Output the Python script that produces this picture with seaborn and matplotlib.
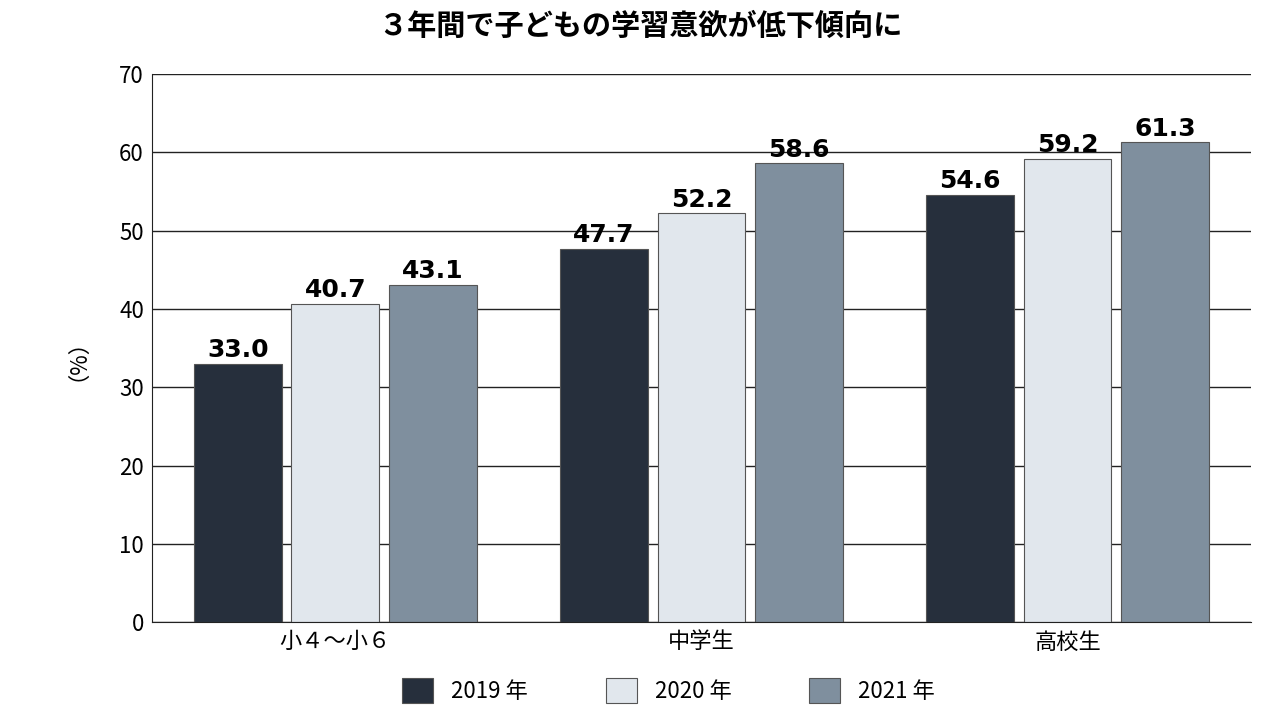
import matplotlib
matplotlib.use("Agg")
import matplotlib.pyplot as plt
import seaborn as sns
import pandas as pd

plt.rcParams["font.family"] = "Noto Sans CJK JP"

categories = ["小４～小６", "中学生", "高校生"]
years = ["2019 年", "2020 年", "2021 年"]
v2019 = [33.0, 47.7, 54.6]
v2020 = [40.7, 52.2, 59.2]
v2021 = [43.1, 58.6, 61.3]
colors = ["#222e40", "#dfe7ef", "#7a8fa3"]

rows = []
for y, vals in zip(years, [v2019, v2020, v2021]):
    for c, v in zip(categories, vals):
        rows.append({"cat": c, "year": y, "val": v})
df = pd.DataFrame(rows)

fig = plt.figure(figsize=(12.8, 7.2), dpi=100)
ax = fig.add_axes([0.119, 0.136, 0.858, 0.761])
ax.set_axisbelow(True)
ax.yaxis.grid(True, color="#222222", linewidth=1)
sns.barplot(data=df, x="cat", y="val", hue="year", palette=colors, ax=ax,
            gap=0.1, edgecolor="#555555", linewidth=0.8, legend=True)
ax.set_ylim(0, 70)
ax.set_xlim(-0.5, 2.5)
ax.set_yticks(range(0, 71, 10))
for cont in ax.containers:
    ax.bar_label(cont, fmt="%.1f", fontsize=18, fontweight="bold",
                 fontfamily="DejaVu Sans", padding=1)
for s in ["top", "right"]:
    ax.spines[s].set_visible(False)
ax.spines["left"].set_color("#222222")
ax.spines["bottom"].set_color("#222222")
ax.tick_params(axis="both", labelsize=16, length=0, pad=6)
ax.set_xlabel("")
ax.set_ylabel("（%）", fontsize=16, rotation=90, labelpad=30)
fig.suptitle("３年間で子どもの学習意欲が低下傾向に", fontsize=21, fontweight="bold", y=0.985)
ax.legend(loc="upper center", bbox_to_anchor=(0.47, -0.065), ncol=3, frameon=False,
          fontsize=16, handlelength=1.4, handleheight=1.4, columnspacing=3.5)
fig.savefig("out.png", dpi=100)
